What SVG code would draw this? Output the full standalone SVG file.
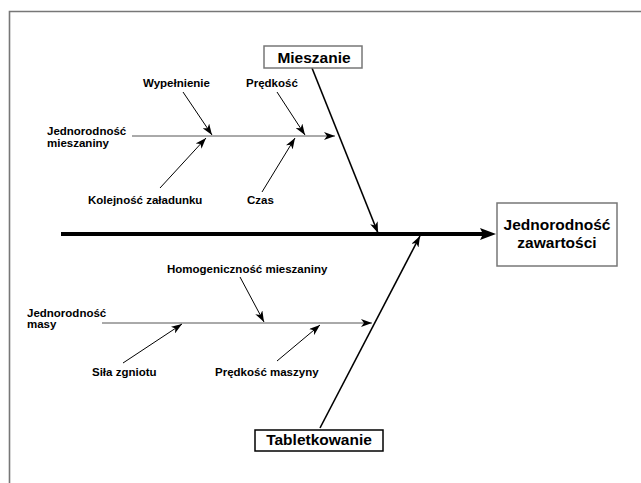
<svg xmlns="http://www.w3.org/2000/svg" width="641" height="483" viewBox="0 0 641 483">
<style>
text{font-family:"Liberation Sans",Arial,sans-serif;font-weight:bold;fill:#000}
.s{font-size:11.5px}
.b{font-size:15.5px}
.branch{stroke:#555;stroke-width:1;fill:none}
.cause{stroke:#000;stroke-width:1;fill:none}
.major{stroke:#000;stroke-width:1.6;fill:none}
.box{fill:#fff;stroke:#777;stroke-width:1.5}
</style>
<defs>
<marker id="ah" markerUnits="userSpaceOnUse" markerWidth="12" markerHeight="8" refX="11" refY="4" orient="auto">
<path d="M0,0 L11,4 L0,8 L3,4 z" fill="#000"/>
</marker>
</defs>
<rect x="0" y="0" width="641" height="483" fill="#fff"/>
<path d="M9.5,490 V11.5 H645" fill="none" stroke="#777" stroke-width="1.6"/>
<g id="connectors">
<line x1="61" y1="234" x2="484" y2="234" stroke="#000" stroke-width="4"/>
<polygon points="480,228 496,234 480,240 483,234" fill="#000"/>
<line class="major" x1="312" y1="68" x2="378" y2="233" marker-end="url(#ah)"/>
<line class="major" x1="320" y1="428" x2="420" y2="236" marker-end="url(#ah)"/>
<line class="branch" x1="132" y1="136" x2="335" y2="136" marker-end="url(#ah)"/>
<line class="cause" x1="183" y1="92" x2="212" y2="135" marker-end="url(#ah)"/>
<line class="cause" x1="277" y1="92" x2="305" y2="135" marker-end="url(#ah)"/>
<line class="cause" x1="160" y1="188" x2="206" y2="138" marker-end="url(#ah)"/>
<line class="cause" x1="262" y1="192" x2="295" y2="138" marker-end="url(#ah)"/>
<line class="branch" x1="102" y1="323" x2="372" y2="323" marker-end="url(#ah)"/>
<line class="cause" x1="240" y1="277" x2="264" y2="322" marker-end="url(#ah)"/>
<line class="cause" x1="123" y1="363" x2="182" y2="324" marker-end="url(#ah)"/>
<line class="cause" x1="277" y1="361" x2="320" y2="325" marker-end="url(#ah)"/>
</g>
<g id="effect">
<rect class="box" x="497" y="203" width="120" height="63"/>
<text class="b" x="557" y="230" text-anchor="middle">Jednorodność</text>
<text class="b" x="557" y="248" text-anchor="middle">zawartości</text>
</g>
<g id="mieszanie">
<rect class="box" x="264" y="46" width="98" height="22"/>
<text class="b" x="314" y="63" text-anchor="middle">Mieszanie</text>
</g>
<g id="tabletkowanie">
<rect x="255" y="430" width="128" height="21" fill="#fff" stroke="#000" stroke-width="1.5"/>
<text class="b" x="319" y="445" text-anchor="middle">Tabletkowanie</text>
</g>
<g id="jednorodnosc-mieszaniny">
<text class="s" x="47" y="135">Jednorodność</text>
<text class="s" x="47" y="147">mieszaniny</text>
</g>
<g id="wypelnienie"><text class="s" x="143" y="87">Wypełnienie</text></g>
<g id="predkosc"><text class="s" x="246" y="87">Prędkość</text></g>
<g id="kolejnosc"><text class="s" x="88" y="204">Kolejność załadunku</text></g>
<g id="czas"><text class="s" x="247" y="204">Czas</text></g>
<g id="jednorodnosc-masy">
<text class="s" x="27" y="317">Jednorodność</text>
<text class="s" x="27" y="328">masy</text>
</g>
<g id="homogenicznosc"><text class="s" x="167" y="273">Homogeniczność mieszaniny</text></g>
<g id="sila"><text class="s" x="92" y="376">Siła zgniotu</text></g>
<g id="predkosc-maszyny"><text class="s" x="215" y="376">Prędkość maszyny</text></g>
</svg>
